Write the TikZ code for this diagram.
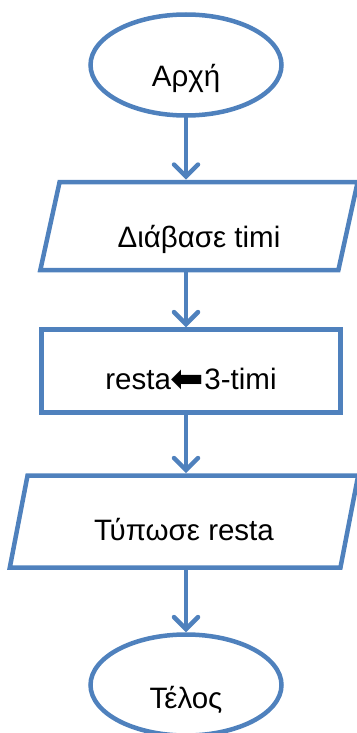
\documentclass[tikz,border=0pt]{standalone}
\usepackage{fontspec}
\setmainfont{Liberation Sans}
\newfontfamily\arrowfont{DejaVu Sans}
\usetikzlibrary{arrows.meta,shapes.geometric}

\definecolor{flowblue}{HTML}{4F81BD}

\begin{document}
\begin{tikzpicture}[x=1pt, y=-1pt,
    line width=4.5pt, flowblue,
    every node/.style={text=black, font=\fontsize{29.5}{32}\selectfont, inner sep=0pt},
    term/.style={draw, ellipse, minimum width=191pt, minimum height=101pt},
    io/.style={draw, trapezium, trapezium left angle=75, trapezium right angle=105,
               trapezium stretches=true},
    proc/.style={draw, rectangle, minimum width=299pt, minimum height=83pt},
    flow/.style={-{Straight Barb[length=12pt, width=24pt, line cap=round]}, line cap=round}]
    \useasboundingbox (0,0) rectangle (356,733);

    % Start and end
    \node[term, text height=44pt, text depth=0pt] (start) at (186, 65) {Αρχή};
    \node[term, text height=46pt, text depth=0pt] (stop) at (186, 685) {Τέλος};

    % Input
    \node[io, minimum width=318pt, minimum height=88pt, text height=42pt, text depth=0pt]
        (read) at (199, 226) {Διάβασε timi};

    % Assignment
    \node[proc, text height=36pt, text depth=0pt] (calc) at (191, 371)
        {resta\raisebox{-3pt}{\arrowfont\fontsize{40}{40}\selectfont ⬅}3-timi};

    % Output
    \node[io, minimum width=349pt, minimum height=92pt, text height=38pt, text depth=0pt]
        (print) at (184, 521.5) {Τύπωσε resta};

    % Arrows
    \draw[flow] (start.south) -- (start.south |- read.north);
    \draw[flow] (start.south |- read.south) -- (start.south |- calc.north);
    \draw[flow] (start.south |- calc.south) -- (start.south |- print.north);
    \draw[flow] (start.south |- print.south) -- (stop.north);
\end{tikzpicture}
\end{document}
